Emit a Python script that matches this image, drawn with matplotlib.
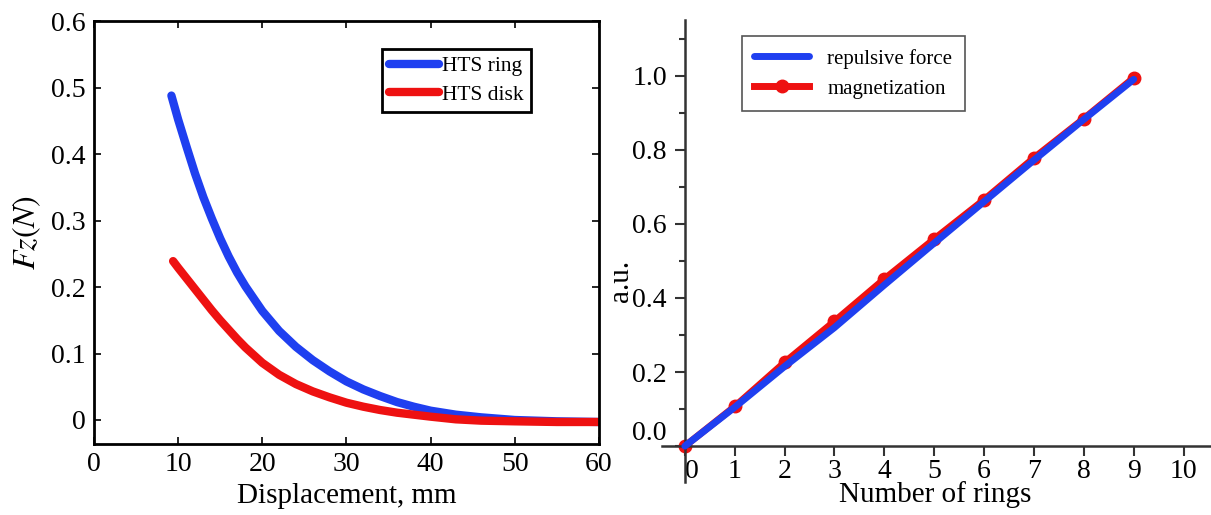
import matplotlib
matplotlib.use("Agg")
import matplotlib.pyplot as plt
from matplotlib.ticker import FixedLocator

plt.rcParams['font.family'] = ['Liberation Serif', 'DejaVu Serif']
plt.rcParams['mathtext.fontset'] = 'stix'

# Left panel: levitation force vs displacement
disp_ring = [9.2, 10, 11, 12, 13, 14, 15, 16, 17, 18, 20, 22, 24, 26, 28,
             30, 32, 34, 36, 38, 40, 43, 46, 50, 55, 60]
fz_ring = [0.488, 0.452, 0.411, 0.371, 0.335, 0.303, 0.273, 0.246, 0.222,
           0.201, 0.164, 0.134, 0.110, 0.090, 0.073, 0.058, 0.046, 0.036,
           0.027, 0.020, 0.014, 0.008, 0.004, 0.000, -0.002, -0.003]
disp_disk = [9.4, 10, 11, 12, 13, 14, 15, 16, 17, 18, 20, 22, 24, 26, 28,
             30, 32, 34, 36, 40, 43, 46, 50, 55, 60]
fz_disk = [0.239, 0.229, 0.213, 0.197, 0.181, 0.165, 0.150, 0.136, 0.122,
           0.109, 0.086, 0.068, 0.054, 0.043, 0.034, 0.026, 0.020, 0.015,
           0.011, 0.005, 0.001, -0.001, -0.002, -0.003, -0.003]
left_xticks = [0, 10, 20, 30, 40, 50, 60]
left_yticks = [0, 0.1, 0.2, 0.3, 0.4, 0.5, 0.6]
left_yticklabels = ['0', '0.1', '0.2', '0.3', '0.4', '0.5', '0.6']

# Right panel: normalized force and magnetization vs ring count
rings = [0, 1, 2, 3, 4, 5, 6, 7, 8, 9]
force = [0.0, 0.105, 0.215, 0.320, 0.435, 0.548, 0.660, 0.772, 0.882, 0.990]
magnet = [0.0, 0.107, 0.226, 0.337, 0.451, 0.559, 0.665, 0.778, 0.884, 0.994]
right_xticks = [0, 1, 2, 3, 4, 5, 6, 7, 8, 9, 10]
right_yticks = [0.0, 0.2, 0.4, 0.6, 0.8, 1.0]
right_yticklabels = ['0.0', '0.2', '0.4', '0.6', '0.8', '1.0']
right_minor = [0.1, 0.3, 0.5, 0.7, 0.9, 1.1]

BLUE = '#1f3ff0'
RED = '#ee1111'

fig = plt.figure(figsize=(12.11, 5.15), dpi=100)

# ---------- left panel ----------
ax1 = fig.add_axes([0.0776, 0.138, 0.417, 0.821])
ax1.plot(disp_ring, fz_ring, color=BLUE, lw=6, solid_capstyle='round',
         solid_joinstyle='round', label='HTS ring')
ax1.plot(disp_disk, fz_disk, color=RED, lw=6, solid_capstyle='round',
         solid_joinstyle='round', label='HTS disk')
ax1.set_xlim(0, 60)
ax1.set_ylim(-0.036, 0.6)
ax1.set_xticks(left_xticks)
ax1.set_yticks(left_yticks)
ax1.set_yticklabels(left_yticklabels)
ax1.tick_params(direction='in', length=5, width=1.2, top=True, right=True,
                labelsize=20, pad=6)
for s in ax1.spines.values():
    s.set_linewidth(2.0)
ax1.set_xlabel('Displacement, mm', fontsize=21, labelpad=4)
ax1.set_ylabel(r'$Fz(N)$', fontsize=23, labelpad=6)
leg1 = ax1.legend(loc='upper right', bbox_to_anchor=(0.866, 0.935),
                  fontsize=15.5, handlelength=2.3, handletextpad=0.15,
                  borderpad=0.35, labelspacing=0.4, fancybox=False,
                  framealpha=1, borderaxespad=0)
leg1.get_frame().set_edgecolor('black')
leg1.get_frame().set_linewidth(2.0)

# ---------- right panel ----------
ax2 = fig.add_axes([0.547, 0.064, 0.453, 0.897])
ax2.plot(rings, magnet, color=RED, lw=5, marker='o', ms=9,
         markeredgecolor=RED, markerfacecolor=RED, label='magnetization',
         zorder=2)
ax2.plot(rings, force, color=BLUE, lw=5, solid_capstyle='round',
         label='repulsive force', zorder=3)
ax2.set_xlim(-0.45, 10.55)
ax2.set_ylim(-0.097, 1.15)
for side in ('top', 'right'):
    ax2.spines[side].set_visible(False)
ax2.spines['left'].set_position(('data', 0))
ax2.spines['bottom'].set_position(('data', 0))
for side in ('left', 'bottom'):
    ax2.spines[side].set_linewidth(1.8)
    ax2.spines[side].set_color('#333333')
ax2.set_xticks(right_xticks)
ax2.set_yticks(right_yticks)
ax2.set_yticklabels(right_yticklabels)
ax2.yaxis.set_minor_locator(FixedLocator(right_minor))
ax2.tick_params(axis='both', which='major', direction='out', length=7,
                width=1.5, color='#333333', labelsize=20)
ax2.tick_params(axis='y', which='minor', direction='out', length=4,
                width=1.5, color='#333333')
ax2.tick_params(axis='y', which='major', pad=6)
ax2.tick_params(axis='x', which='major', pad=2)
for lbl in ax2.get_yticklabels():
    if lbl.get_text() == '0.0':
        lbl.set_va('bottom')
for lbl in ax2.get_xticklabels():
    if lbl.get_text() == '0':
        lbl.set_ha('left')
fig.text(935 / 1211, 1 - 495 / 515, 'Number of rings', fontsize=21,
         ha='center', va='center')
fig.text(621 / 1211, 1 - 281 / 515, 'a.u.', fontsize=21, rotation=90,
         ha='center', va='center')
h, l = ax2.get_legend_handles_labels()
leg2 = ax2.legend(h[::-1], l[::-1], loc='upper left',
                  bbox_to_anchor=(0.145, 0.965), fontsize=15,
                  handlelength=2.6, handletextpad=0.9, borderpad=0.6,
                  labelspacing=0.5, fancybox=False, framealpha=1,
                  borderaxespad=0)
leg2.get_frame().set_edgecolor('#555555')
leg2.get_frame().set_linewidth(1.2)

fig.savefig('out.png', dpi=100)
